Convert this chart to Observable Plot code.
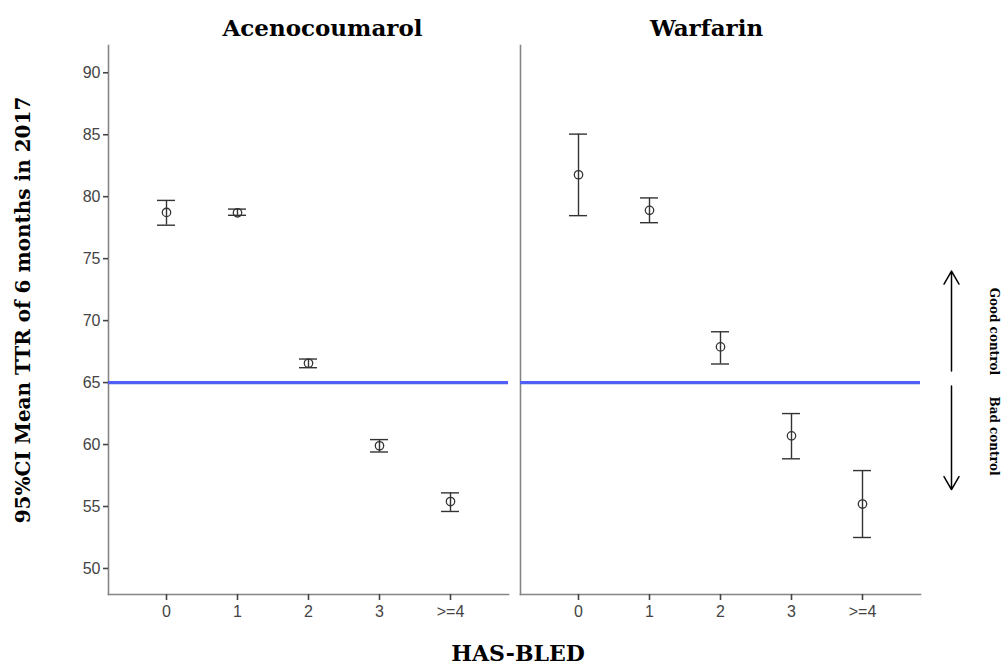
<!DOCTYPE html>
<html>
<head>
<meta charset="utf-8">
<script src="https://cdn.jsdelivr.net/npm/d3@7"></script>
<script src="https://cdn.jsdelivr.net/npm/@observablehq/plot@0.6"></script>
<style>
  html, body { margin: 0; padding: 0; background: #fff; }
  #wrap { position: relative; width: 1005px; height: 668px; overflow: hidden; }
  #wrap svg { position: absolute; left: 0; top: 0; }
  .lbl { position: absolute; font-family: "DejaVu Serif", serif; font-weight: bold; color: #000; white-space: nowrap; }
</style>
</head>
<body>
<div id="wrap"></div>
<script>
// ---- data ----
const drugs = ["Acenocoumarol", "Warfarin"];
const hasbled = ["0", "1", "2", "3", ">=4"];
const aceMean = [78.73, 78.70, 66.56, 59.90, 55.40];
const aceLow  = [77.70, 78.50, 66.20, 59.40, 54.60];
const aceHigh = [79.70, 79.00, 66.90, 60.40, 56.10];
const warMean = [81.77, 78.90, 67.88, 60.70, 55.20];
const warLow  = [78.47, 77.90, 66.50, 58.85, 52.50];
const warHigh = [85.05, 79.90, 69.10, 62.50, 57.90];
const yTicks = [50, 55, 60, 65, 70, 75, 80, 85, 90];
const threshold = 65;
const annotLabels = ["Good control", "Bad control"];
const annotFrom = [65.94, 64.73];
const annotTo   = [74.00, 56.37];
const annotMid  = [69.13, 60.69];
const yLabel = "95%CI Mean TTR of 6 months in 2017";
const xLabel = "HAS-BLED";

// ---- tables ----
const rows = [];
hasbled.forEach((c, i) => rows.push({drug: drugs[0], cat: c, mean: aceMean[i], low: aceLow[i], high: aceHigh[i]}));
hasbled.forEach((c, i) => rows.push({drug: drugs[1], cat: c, mean: warMean[i], low: warLow[i], high: warHigh[i]}));
const annot = annotLabels.map((t, i) => ({drug: drugs[1], cat: hasbled[hasbled.length - 1], label: t, from: annotFrom[i], to: annotTo[i], mid: annotMid[i]}));

const axisGray = "#858585";
const ink = "#333";
const sans = "Liberation Sans, Arial, sans-serif";
const serif = "DejaVu Serif, serif";
const titleStyle = {fx: d => d, text: d => d, frameAnchor: "top", lineAnchor: "middle", dy: -17, fontSize: 23, fontWeight: "bold", fontFamily: serif, fill: "#000"};

const chart = Plot.plot({
  width: 1005,
  height: 668,
  marginLeft: 107,
  marginRight: 84,
  marginTop: 45,
  marginBottom: 74,
  style: {background: "white"},
  fx: {domain: drugs, paddingInner: 0.029, paddingOuter: 0, label: null, axis: null},
  x: {type: "band", domain: hasbled, paddingInner: 0.75, paddingOuter: 0.653, label: null},
  y: {domain: [47.9, 92.2], label: null},
  marks: [
    Plot.frame({anchor: "left", stroke: axisGray, strokeWidth: 1.6}),
    Plot.frame({anchor: "bottom", stroke: axisGray, strokeWidth: 1.6}),
    Plot.axisY(yTicks, {anchor: "left", tickSize: 5, tickPadding: 3, fontSize: 16, fontFamily: sans, fill: "#444", stroke: "#444", strokeWidth: 1.6, label: null}),
    Plot.axisX({anchor: "bottom", tickSize: 6, tickPadding: 5, fontSize: 16, fontFamily: sans, fill: "#444", stroke: "#444", strokeWidth: 1.6, label: null}),
    Plot.text([drugs[0]], {...titleStyle, dx: 14}),
    Plot.text([drugs[1]], {...titleStyle, dx: -14}),
    Plot.ruleY([threshold], {stroke: "#5060f4", strokeWidth: 3.2}),
    Plot.ruleX(rows, {x: "cat", y1: "low", y2: "high", fx: "drug", stroke: ink, strokeWidth: 1.4}),
    Plot.tickY(rows, {x: "cat", y: "low", fx: "drug", stroke: ink, strokeWidth: 1.4}),
    Plot.tickY(rows, {x: "cat", y: "high", fx: "drug", stroke: ink, strokeWidth: 1.4}),
    Plot.dot(rows, {x: "cat", y: "mean", fx: "drug", r: 4.2, stroke: ink, strokeWidth: 1.3, fill: "none"}),
    Plot.arrow(annot, {x1: "cat", x2: "cat", y1: "from", y2: "to", fx: "drug", dx: 89, stroke: "#000", strokeWidth: 1.5, headLength: 15, headAngle: 60}),
    Plot.text(annot, {x: "cat", y: "mid", fx: "drug", text: "label", dx: 131, rotate: 90, fontSize: 12, fontWeight: "bold", fontFamily: serif, fill: "#000"})
  ]
});

const wrap = document.getElementById("wrap");
wrap.appendChild(chart);

const yl = document.createElement("div");
yl.className = "lbl";
yl.textContent = yLabel;
yl.style.fontSize = "20px";
yl.style.left = "23px";
yl.style.top = "310px";
yl.style.transform = "translate(-50%, -50%) rotate(-90deg)";
wrap.appendChild(yl);

const xl = document.createElement("div");
xl.className = "lbl";
xl.textContent = xLabel;
xl.style.fontSize = "22px";
xl.style.left = "518px";
xl.style.top = "653px";
xl.style.transform = "translate(-50%, -50%)";
wrap.appendChild(xl);
</script>
</body>
</html>
